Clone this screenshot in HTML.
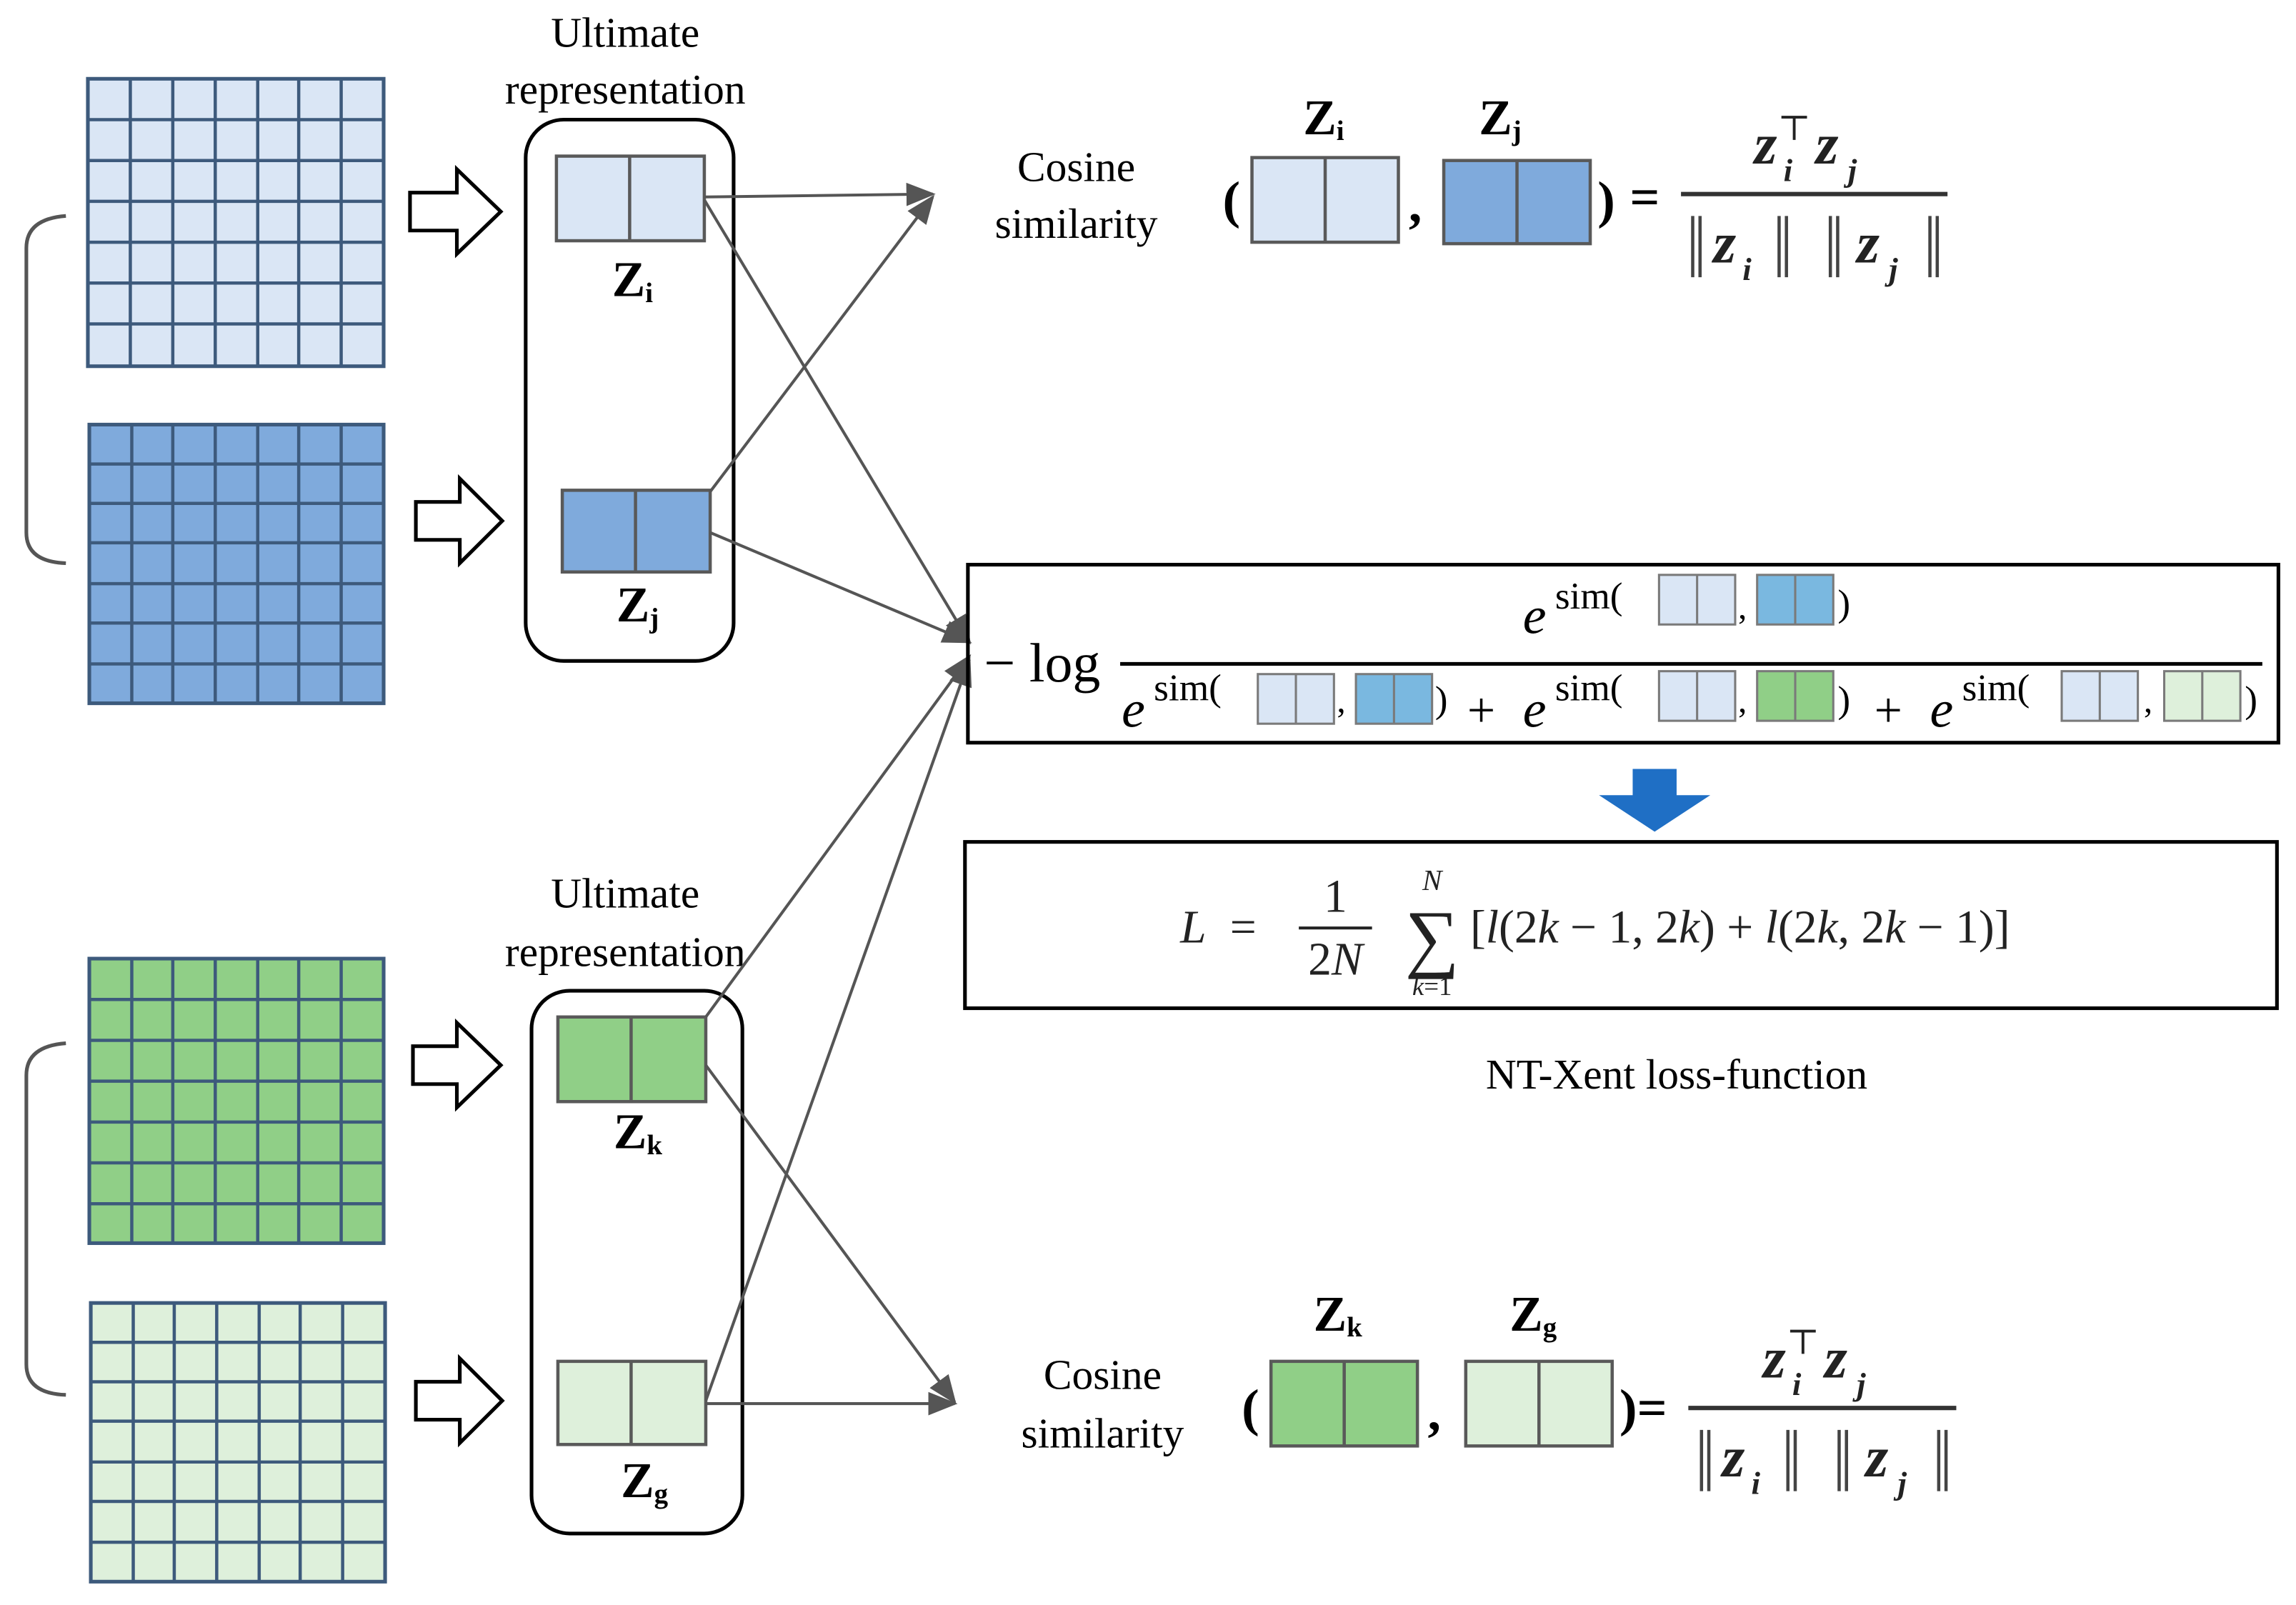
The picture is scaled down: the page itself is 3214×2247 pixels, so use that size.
<!DOCTYPE html>
<html><head><meta charset="utf-8"><style>
html,body{margin:0;padding:0;background:#fff;}
svg{display:block;}
svg, svg text{font-family:"Liberation Serif","Times New Roman","DejaVu Serif",serif;}
</style></head><body>
<svg width="3214" height="2247" viewBox="0 0 1568 1100" preserveAspectRatio="none" xmlns="http://www.w3.org/2000/svg" font-family="Liberation Serif, DejaVu Serif, serif">
<defs>
<marker id="ar2" markerWidth="20" markerHeight="20" refX="18" refY="10" orient="auto" markerUnits="userSpaceOnUse" viewBox="0 0 20 20"><path d="M0,2 L20,10 L0,18 Z" fill="#555"/></marker>
</defs>

<g stroke="#3d5a7c" stroke-width="2.5">
 <rect x="60" y="54" width="202" height="197" fill="#dae6f5"/>
 <rect x="61" y="291" width="201" height="191" fill="#7faadc"/>
 <rect x="61" y="657" width="201" height="195" fill="#90cf87"/>
 <rect x="62" y="893" width="201" height="191" fill="#def0db"/>
</g>
<g stroke="#3d5a7c" stroke-width="2.2" fill="none">
 <path d="M89,54V251M118,54V251M147,54V251M176,54V251M204,54V251M233,54V251 M60,82H262M60,110H262M60,138H262M60,166H262M60,194H262M60,222H262"/>
 <path d="M90,291V482M118,291V482M147,291V482M176,291V482M204,291V482M233,291V482 M61,318H262M61,345H262M61,372H262M61,400H262M61,427H262M61,455H262"/>
 <path d="M90,657V852M118,657V852M147,657V852M176,657V852M204,657V852M233,657V852 M61,685H262M61,713H262M61,741H262M61,769H262M61,797H262M61,825H262"/>
 <path d="M91,893V1084M119,893V1084M148,893V1084M177,893V1084M205,893V1084M234,893V1084 M62,920H263M62,947H263M62,974H263M62,1002H263M62,1029H263M62,1057H263"/>
</g>
<g stroke="#555" stroke-width="2.5" fill="none">
 <path d="M45,148 Q18,150 18,170 V365 Q18,385 45,386"/>
 <path d="M45,715 Q18,717 18,737 V935 Q18,955 45,956"/>
</g>
<g stroke="#000" stroke-width="2.5" fill="#fff">
 <path d="M280,132 H312 V116 L342,145 L312,174 V158 H280 Z"/>
 <path d="M284,344 H314 V328 L343,357 L314,386 V370 H284 Z"/>
 <path d="M282,717 H312 V701 L342,730 L312,759 V743 H282 Z"/>
 <path d="M284,947 H314 V931 L343,960 L314,989 V973 H284 Z"/>
</g>
<g font-size="29" text-anchor="middle" fill="#000">
 <text x="427" y="32">Ultimate</text>
 <text x="427" y="71">representation</text>
 <text x="427" y="622">Ultimate</text>
 <text x="427" y="662">representation</text>
 <text x="735" y="124">Cosine</text>
 <text x="735" y="163">similarity</text>
 <text x="753" y="952">Cosine</text>
 <text x="753" y="992">similarity</text>
 <text x="1145" y="746">NT-Xent loss-function</text>
</g>
<g stroke="#000" stroke-width="2.5" fill="none">
 <rect x="359" y="82" width="142" height="371" rx="26"/>
 <rect x="363" y="679" width="144" height="372" rx="26"/>
</g>
<g stroke="#595959" stroke-width="2.2">
 <rect x="380" y="107" width="101" height="58" fill="#dae6f5"/><line x1="430" y1="107" x2="430" y2="165"/>
 <rect x="384" y="336" width="101" height="56" fill="#7faadc"/><line x1="434" y1="336" x2="434" y2="392"/>
 <rect x="381" y="697" width="101" height="58" fill="#90cf87"/><line x1="431" y1="697" x2="431" y2="755"/>
 <rect x="381" y="933" width="101" height="57" fill="#def0db"/><line x1="431" y1="933" x2="431" y2="990"/>
 <rect x="855" y="108" width="100" height="58" fill="#dae6f5"/><line x1="905" y1="108" x2="905" y2="166"/>
 <rect x="986" y="110" width="100" height="57" fill="#7faadc"/><line x1="1036" y1="110" x2="1036" y2="167"/>
 <rect x="868" y="933" width="100" height="58" fill="#90cf87"/><line x1="918" y1="933" x2="918" y2="991"/>
 <rect x="1001" y="933" width="100" height="58" fill="#def0db"/><line x1="1051" y1="933" x2="1051" y2="991"/>
</g>
<g font-size="34" font-weight="bold" fill="#000">
 <text x="418" y="203">Z<tspan font-size="19" dy="4">i</tspan></text>
 <text x="421" y="426">Z<tspan font-size="19" dy="4">j</tspan></text>
 <text x="419" y="787">Z<tspan font-size="19" dy="4">k</tspan></text>
 <text x="424" y="1026">Z<tspan font-size="19" dy="4">g</tspan></text>
 <text x="890" y="92">Z<tspan font-size="19" dy="4">i</tspan></text>
 <text x="1010" y="92">Z<tspan font-size="19" dy="4">j</tspan></text>
 <text x="897" y="912">Z<tspan font-size="19" dy="4">k</tspan></text>
 <text x="1031" y="912">Z<tspan font-size="19" dy="4">g</tspan></text>
</g>
<g stroke="#555" stroke-width="2" fill="none">
 <line x1="481" y1="135" x2="637" y2="133" marker-end="url(#ar2)"/>
 <line x1="485" y1="337" x2="637" y2="135" marker-end="url(#ar2)"/>
 <line x1="481" y1="137" x2="662" y2="440" marker-end="url(#ar2)"/>
 <line x1="485" y1="365" x2="662" y2="440" marker-end="url(#ar2)"/>
 <line x1="482" y1="697" x2="662" y2="450" marker-end="url(#ar2)"/>
 <line x1="482" y1="960" x2="662" y2="452" marker-end="url(#ar2)"/>
 <line x1="482" y1="730" x2="652" y2="961" marker-end="url(#ar2)"/>
 <line x1="482" y1="962" x2="652" y2="962" marker-end="url(#ar2)"/>
</g>
<g fill="#000">
 <text x="835" y="149" font-size="36" font-weight="bold">(</text>
 <text x="962" y="152" font-size="36" font-weight="bold">,</text>
 <text x="1091" y="149" font-size="36" font-weight="bold">)</text>
 <text x="1113" y="147" font-size="36" font-weight="bold">=</text>
 <text x="848" y="977" font-size="36" font-weight="bold">(</text>
 <text x="975" y="980" font-size="36" font-weight="bold">,</text>
 <text x="1106" y="977" font-size="36" font-weight="bold">)=</text>
</g>
<g fill="#222" font-style="italic" font-weight="bold" font-size="40">
 <text x="1198" y="112">z</text><text x="1218" y="124" font-size="22">i</text><text x="1214" y="96" font-size="24" font-style="normal" font-weight="normal">⊤</text>
 <text x="1240" y="112">z</text><text x="1262" y="124" font-size="22">j</text>
 <text x="1170" y="180">z</text><text x="1190" y="192" font-size="22">i</text>
 <text x="1268" y="180">z</text><text x="1290" y="192" font-size="22">j</text>
 <text x="1204" y="944">z</text><text x="1224" y="956" font-size="22">i</text><text x="1220" y="928" font-size="24" font-style="normal" font-weight="normal">⊤</text>
 <text x="1246" y="944">z</text><text x="1268" y="956" font-size="22">j</text>
 <text x="1176" y="1012">z</text><text x="1196" y="1024" font-size="22">i</text>
 <text x="1274" y="1012">z</text><text x="1296" y="1024" font-size="22">j</text>
</g>
<g stroke="#444" stroke-width="2.2">
 <path d="M1156,148V190M1161,148V190 M1215,148V190M1220,148V190 M1250,148V190M1255,148V190 M1318,148V190M1323,148V190"/>
 <path d="M1162,980V1022M1167,980V1022 M1221,980V1022M1226,980V1022 M1256,980V1022M1261,980V1022 M1324,980V1022M1329,980V1022"/>
</g>
<line x1="1148" y1="133" x2="1330" y2="133" stroke="#333" stroke-width="3"/>
<line x1="1153" y1="965" x2="1336" y2="965" stroke="#333" stroke-width="3"/>

<rect x="661" y="387" width="895" height="122" fill="none" stroke="#000" stroke-width="2.5"/>
<line x1="765" y1="455" x2="1545" y2="455" stroke="#000" stroke-width="2.5"/>
<g fill="#000">
 <text x="672" y="467" font-size="38">− log</text>
 <text x="1040" y="434" font-size="36" font-style="italic">e</text>
 <text x="1062" y="417" font-size="26">sim(</text>
 <text x="1187" y="424" font-size="24">,</text>
 <text x="1255" y="422" font-size="26">)</text>
 <text x="766" y="498" font-size="36" font-style="italic">e</text>
 <text x="788" y="480" font-size="26">sim(</text>
 <text x="913" y="488" font-size="24">,</text>
 <text x="980" y="488" font-size="26">)</text>
 <text x="1002" y="498" font-size="34">+</text>
 <text x="1040" y="498" font-size="36" font-style="italic">e</text>
 <text x="1062" y="480" font-size="26">sim(</text>
 <text x="1187" y="488" font-size="24">,</text>
 <text x="1255" y="488" font-size="26">)</text>
 <text x="1280" y="498" font-size="34">+</text>
 <text x="1318" y="498" font-size="36" font-style="italic">e</text>
 <text x="1340" y="480" font-size="26">sim(</text>
 <text x="1464" y="488" font-size="24">,</text>
 <text x="1533" y="488" font-size="26">)</text>
</g>
<g stroke="#7a7a7a" stroke-width="1.5">
 <rect x="1133" y="394" width="52" height="34" fill="#dae6f5"/><line x1="1159" y1="394" x2="1159" y2="428"/>
 <rect x="1200" y="394" width="52" height="34" fill="#7ab8e0"/><line x1="1226" y1="394" x2="1226" y2="428"/>
 <rect x="859" y="462" width="52" height="34" fill="#dae6f5"/><line x1="885" y1="462" x2="885" y2="496"/>
 <rect x="926" y="462" width="52" height="34" fill="#7ab8e0"/><line x1="952" y1="462" x2="952" y2="496"/>
 <rect x="1133" y="460" width="52" height="34" fill="#dae6f5"/><line x1="1159" y1="460" x2="1159" y2="494"/>
 <rect x="1200" y="460" width="52" height="34" fill="#90cf87"/><line x1="1226" y1="460" x2="1226" y2="494"/>
 <rect x="1408" y="460" width="52" height="34" fill="#dae6f5"/><line x1="1434" y1="460" x2="1434" y2="494"/>
 <rect x="1478" y="460" width="52" height="34" fill="#def0db"/><line x1="1504" y1="460" x2="1504" y2="494"/>
</g>
<path d="M1115,527 H1145 V545 H1168 L1130,570 L1092,545 H1115 Z" fill="#1f6fc5"/>
<rect x="659" y="577" width="896" height="114" fill="none" stroke="#000" stroke-width="2.5"/>
<g fill="#222" font-size="32" font-style="italic">
 <text x="806" y="646">L</text>
 <text x="840" y="646" font-style="normal">=</text>
 <text x="912" y="625" text-anchor="middle" font-style="normal">1</text>
 <text x="912" y="668" text-anchor="middle" font-style="normal">2<tspan font-style="italic">N</tspan></text>
 <text x="978" y="610" text-anchor="middle" font-size="20">N</text>
 <text x="978" y="660" text-anchor="middle" font-size="52" font-style="normal">∑</text>
 <text x="978" y="682" text-anchor="middle" font-size="18">k<tspan font-style="normal">=1</tspan></text>
 <text x="1004" y="646"><tspan font-style="normal">[</tspan>l<tspan font-style="normal">(2</tspan>k<tspan font-style="normal"> − 1, 2</tspan>k<tspan font-style="normal">) + </tspan>l<tspan font-style="normal">(2</tspan>k<tspan font-style="normal">, 2</tspan>k<tspan font-style="normal"> − 1)]</tspan></text>
</g>
<line x1="887" y1="636" x2="937" y2="636" stroke="#222" stroke-width="2"/>
</svg>
</body></html>
